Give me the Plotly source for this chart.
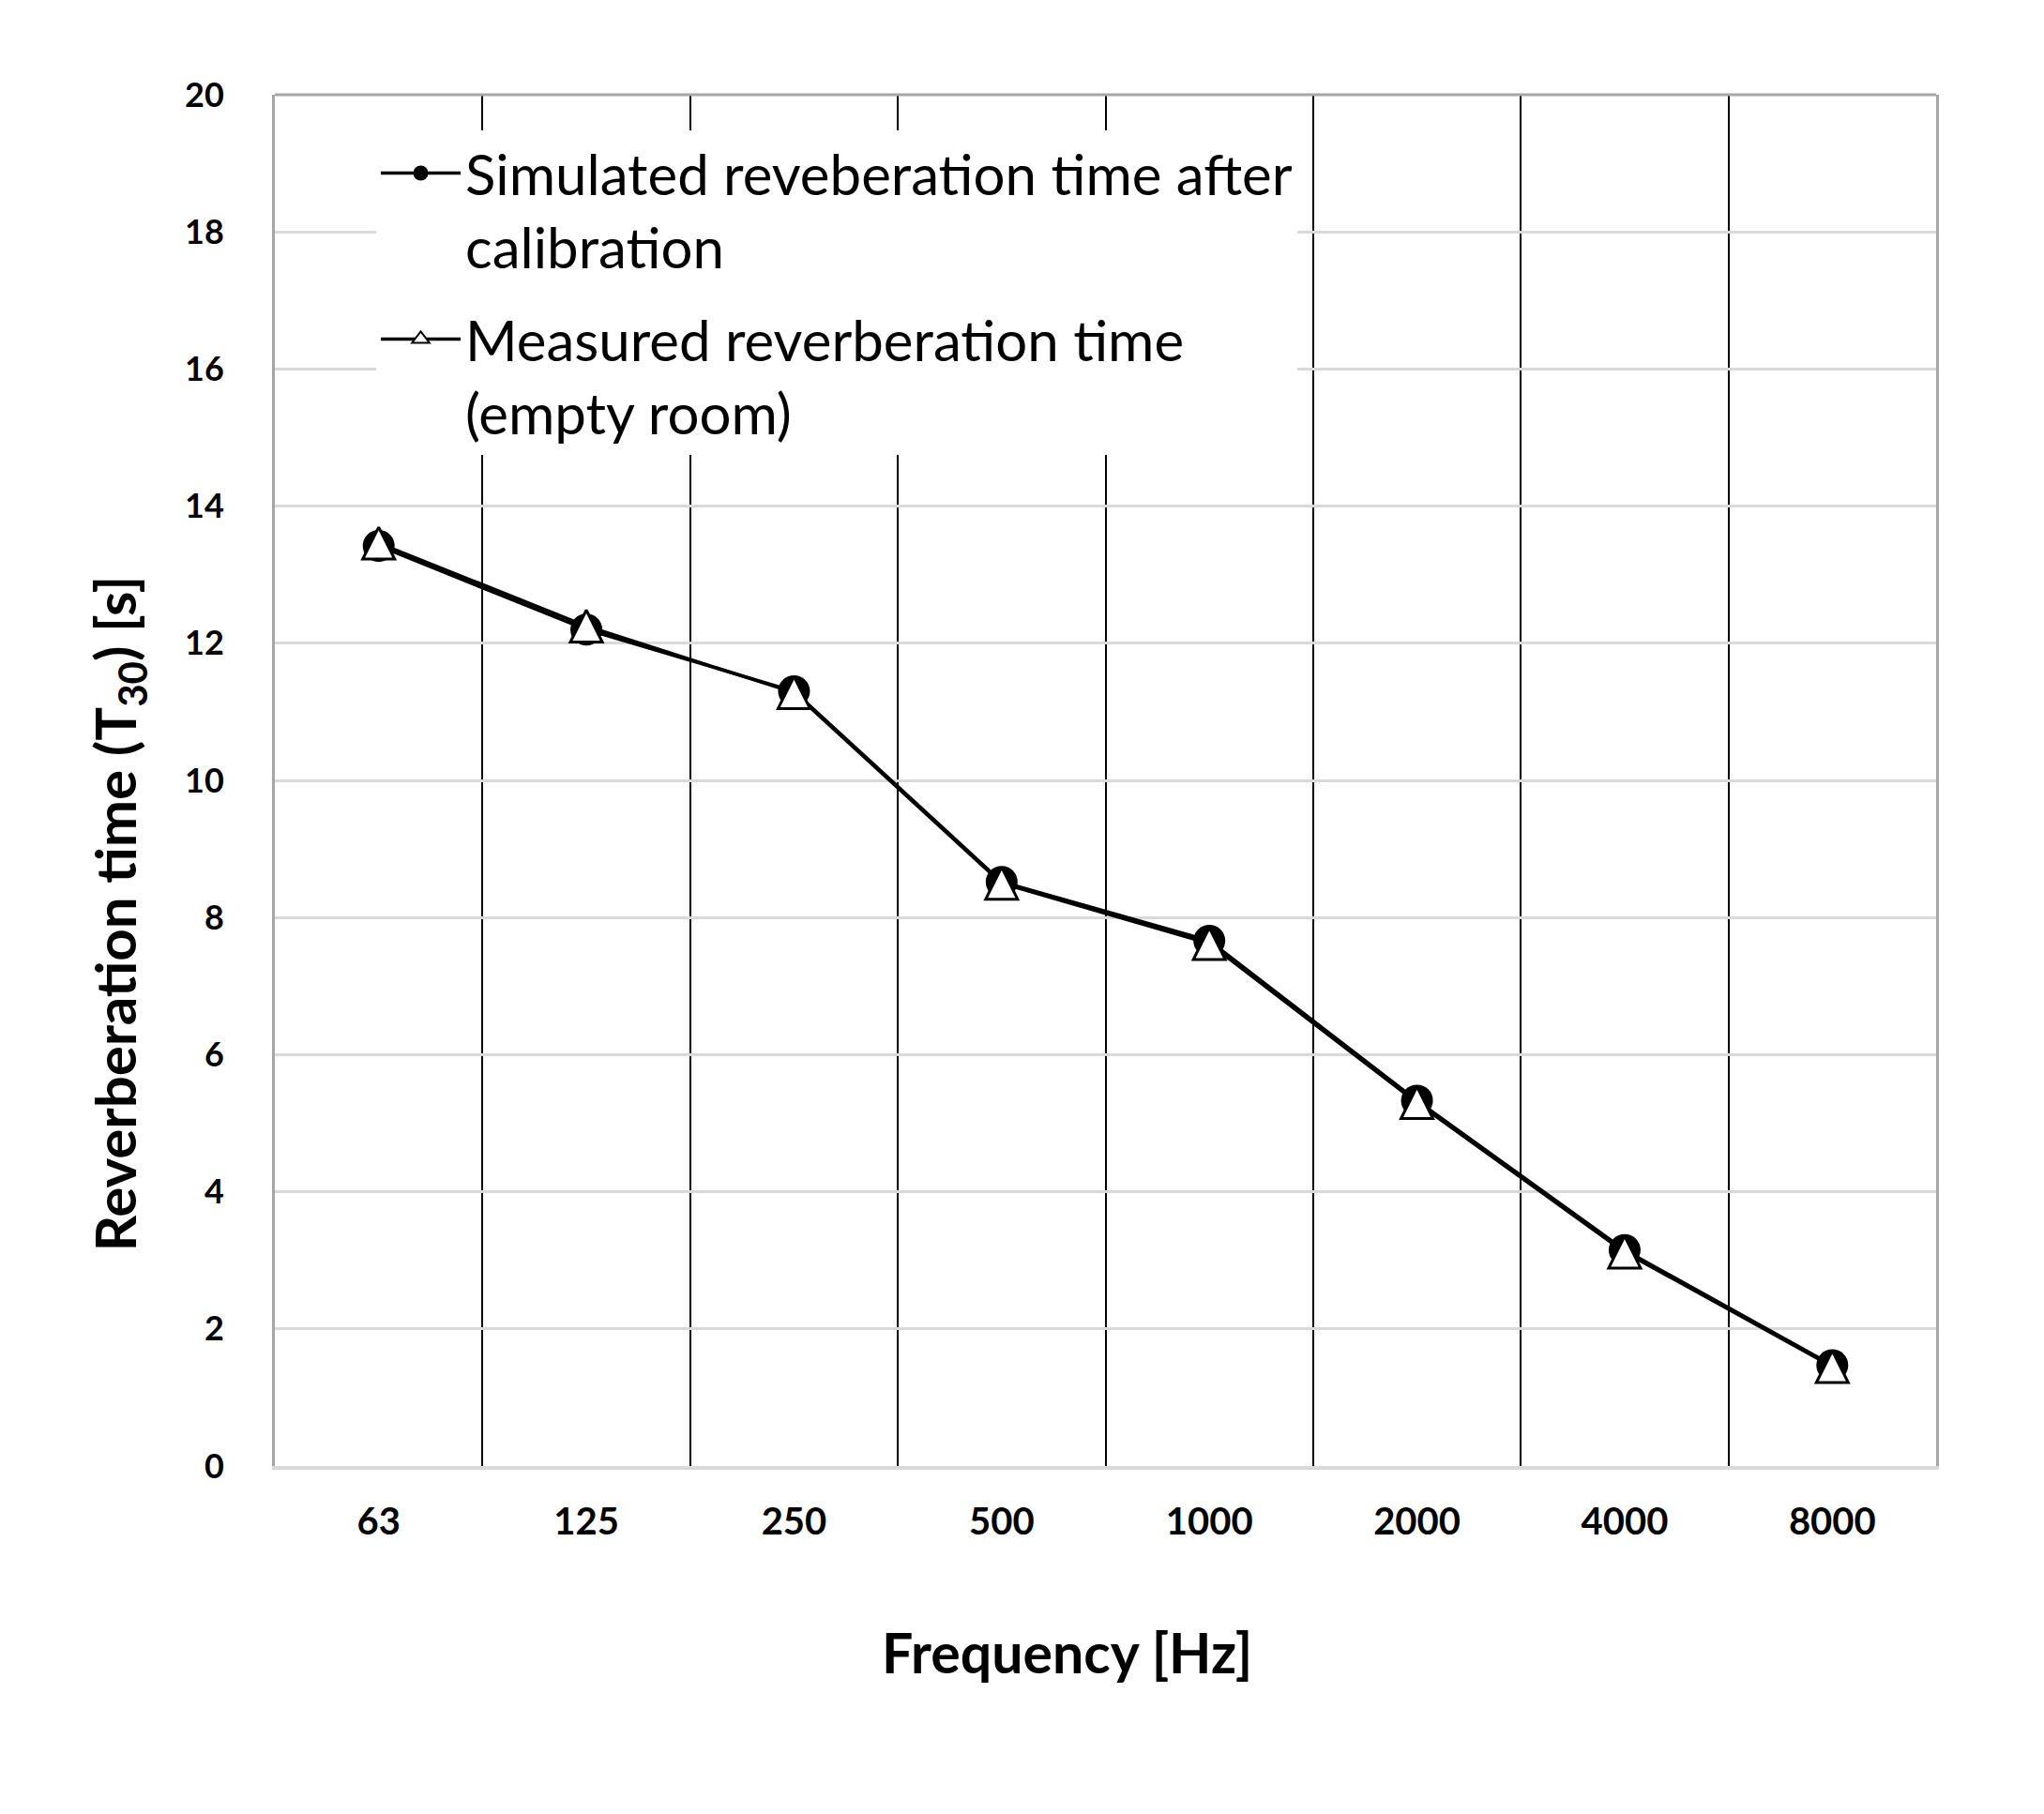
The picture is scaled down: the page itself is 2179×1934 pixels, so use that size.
import plotly.graph_objects as go

frequencies = ["63", "125", "250", "500", "1000", "2000", "4000", "8000"]
simulated = [13.42, 12.20, 11.30, 8.52, 7.66, 5.33, 3.15, 1.47]
measured = [13.46, 12.25, 11.28, 8.50, 7.62, 5.30, 3.12, 1.45]
y_ticks = [0, 2, 4, 6, 8, 10, 12, 14, 16, 18, 20]

sim_name = "Simulated reveberation time after<br>calibration"
meas_name = "Measured reverberation time<br>(empty room)"

FONT = "Lato"
LINE = dict(color="black", width=3.5)

fig = go.Figure()
# data traces
fig.add_trace(go.Scatter(
    x=frequencies, y=simulated, name=sim_name, mode="lines+markers",
    legendgroup="sim", showlegend=False, line=LINE,
    marker=dict(symbol="circle", size=34, color="black", line=dict(width=0)),
))
fig.add_trace(go.Scatter(
    x=frequencies, y=measured, name=meas_name, mode="lines+markers",
    legendgroup="meas", showlegend=False, line=LINE,
    marker=dict(symbol="arrow-down", angle=180, standoff=17, size=34,
                color="white", line=dict(color="black", width=3)),
))
# legend entries (no data of their own)
fig.add_trace(go.Scatter(
    x=[None], y=[None], name=sim_name, mode="lines+markers",
    legendgroup="sim", line=LINE,
    marker=dict(symbol="circle", size=16, color="black", line=dict(width=0)),
))
fig.add_trace(go.Scatter(
    x=[None], y=[None], name=meas_name, mode="lines+markers",
    legendgroup="meas", line=LINE,
    marker=dict(symbol="triangle-up", size=16, color="white",
                line=dict(color="black", width=2)),
))

fig.update_layout(
    width=2179, height=1934,
    margin=dict(l=293, r=115, t=101, b=371),
    paper_bgcolor="white", plot_bgcolor="white",
    font=dict(family=FONT, color="black"),
    showlegend=True,
    legend=dict(
        x=0.061, y=0.974, xanchor="left", yanchor="top", valign="top",
        bgcolor="white", borderwidth=0,
        font=dict(family=FONT, size=60, color="black"),
        itemwidth=85, tracegroupgap=18, traceorder="grouped",
    ),
    xaxis=dict(
        type="category", tickson="boundaries", range=[-0.5, 7.5],
        showgrid=True, gridcolor="black", gridwidth=2,
        ticks="", ticklabelstandoff=21,
        tickfont=dict(family=FONT, size=40, weight="bold", color="black"),
        showline=True, linecolor="#d9d9d9", linewidth=4,
        zeroline=False,
    ),
    yaxis=dict(
        range=[0, 20], tickvals=y_ticks,
        showgrid=True, gridcolor="#d9d9d9", gridwidth=3,
        ticks="", ticklabelstandoff=44,
        tickfont=dict(family=FONT, size=36, weight="bold", color="black"),
        showline=True, linecolor="#a6a6a6", linewidth=3, mirror=True,
        zeroline=False,
    ),
    shapes=[dict(type="line", xref="paper", yref="paper", x0=0, x1=1, y0=1, y1=1,
                 line=dict(color="#a6a6a6", width=3))],
    annotations=[
        dict(text="<b>Frequency [Hz]</b>", xref="paper", yref="paper",
             x=0.4766, y=-0.136, xanchor="center", yanchor="middle",
             showarrow=False, font=dict(family=FONT, size=59, color="black")),
        dict(text="<b>Reverberation time (T<sub>30</sub>) [s]</b>", xref="paper", yref="paper",
             x=-0.094, y=0.403, xanchor="center", yanchor="middle", textangle=-90,
             showarrow=False, font=dict(family=FONT, size=60, color="black")),
    ],
)

fig.write_html("out.html")
